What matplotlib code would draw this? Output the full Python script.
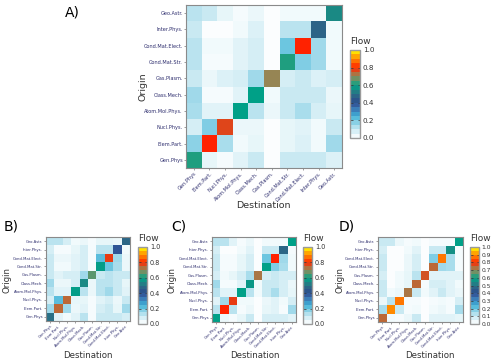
import matplotlib

matplotlib.use("Agg")
import matplotlib.pyplot as plt
import numpy as np
from matplotlib.colors import LinearSegmentedColormap, ListedColormap, Normalize
from matplotlib.cm import ScalarMappable

plt.rcParams["font.family"] = ["Liberation Sans Narrow", "DejaVu Sans"]

fields = ["Gen.Phys", "Elem.Part.", "Nucl.Phys.", "Atom.Mol.Phys.", "Class.Mech.",
          "Gas.Plasm.", "Cond.Mat.Str.", "Cond.Mat.Elect.", "Inter.Phys.", "Geo.Astr."]

# rows = origin (listed bottom -> top, same order as fields), cols = destination
flow_a = [
    [0.62, 0.05, 0.02, 0.06, 0.10, 0.01, 0.10, 0.10, 0.10, 0.07],
    [0.17, 0.80, 0.14, 0.03, 0.05, 0.01, 0.05, 0.07, 0.03, 0.15],
    [0.08, 0.18, 0.77, 0.04, 0.04, 0.01, 0.05, 0.06, 0.03, 0.10],
    [0.14, 0.06, 0.06, 0.60, 0.12, 0.04, 0.10, 0.14, 0.08, 0.05],
    [0.15, 0.02, 0.02, 0.06, 0.60, 0.03, 0.10, 0.10, 0.10, 0.04],
    [0.10, 0.04, 0.07, 0.08, 0.15, 0.70, 0.08, 0.10, 0.07, 0.08],
    [0.12, 0.02, 0.02, 0.06, 0.08, 0.01, 0.62, 0.18, 0.15, 0.03],
    [0.12, 0.03, 0.03, 0.06, 0.08, 0.01, 0.20, 0.80, 0.15, 0.03],
    [0.10, 0.01, 0.01, 0.03, 0.07, 0.01, 0.12, 0.12, 0.47, 0.03],
    [0.12, 0.10, 0.05, 0.02, 0.04, 0.01, 0.03, 0.03, 0.03, 0.55],
]
flow_b = [
    [0.50, 0.06, 0.03, 0.06, 0.12, 0.02, 0.10, 0.10, 0.10, 0.08],
    [0.15, 0.74, 0.15, 0.04, 0.06, 0.02, 0.08, 0.10, 0.05, 0.15],
    [0.08, 0.22, 0.74, 0.05, 0.05, 0.02, 0.06, 0.08, 0.04, 0.10],
    [0.12, 0.06, 0.06, 0.59, 0.12, 0.04, 0.12, 0.15, 0.10, 0.06],
    [0.15, 0.04, 0.04, 0.08, 0.55, 0.04, 0.12, 0.12, 0.10, 0.05],
    [0.10, 0.06, 0.08, 0.08, 0.15, 0.66, 0.10, 0.12, 0.10, 0.10],
    [0.10, 0.03, 0.03, 0.06, 0.08, 0.02, 0.59, 0.20, 0.14, 0.04],
    [0.10, 0.04, 0.04, 0.06, 0.08, 0.02, 0.22, 0.78, 0.15, 0.04],
    [0.08, 0.02, 0.02, 0.05, 0.08, 0.02, 0.12, 0.12, 0.39, 0.03],
    [0.12, 0.12, 0.08, 0.03, 0.04, 0.02, 0.05, 0.05, 0.04, 0.48],
]
flow_c = [
    [0.60, 0.04, 0.02, 0.05, 0.10, 0.01, 0.08, 0.08, 0.08, 0.06],
    [0.12, 0.80, 0.12, 0.02, 0.04, 0.01, 0.05, 0.06, 0.02, 0.15],
    [0.06, 0.15, 0.78, 0.03, 0.03, 0.01, 0.04, 0.06, 0.03, 0.08],
    [0.12, 0.06, 0.06, 0.60, 0.12, 0.03, 0.10, 0.14, 0.08, 0.05],
    [0.15, 0.02, 0.02, 0.06, 0.58, 0.03, 0.10, 0.10, 0.08, 0.04],
    [0.08, 0.03, 0.05, 0.08, 0.14, 0.72, 0.08, 0.10, 0.08, 0.08],
    [0.10, 0.02, 0.02, 0.05, 0.08, 0.01, 0.60, 0.18, 0.14, 0.03],
    [0.10, 0.02, 0.02, 0.05, 0.08, 0.01, 0.20, 0.80, 0.15, 0.03],
    [0.08, 0.01, 0.01, 0.03, 0.06, 0.01, 0.10, 0.10, 0.48, 0.02],
    [0.12, 0.12, 0.06, 0.02, 0.04, 0.01, 0.03, 0.03, 0.03, 0.60],
]
flow_d = [
    [0.74, 0.03, 0.02, 0.04, 0.10, 0.01, 0.06, 0.06, 0.06, 0.05],
    [0.14, 0.90, 0.10, 0.02, 0.03, 0.01, 0.03, 0.04, 0.02, 0.14],
    [0.04, 0.12, 0.88, 0.02, 0.02, 0.01, 0.02, 0.03, 0.02, 0.08],
    [0.10, 0.03, 0.04, 0.72, 0.10, 0.03, 0.06, 0.10, 0.06, 0.04],
    [0.10, 0.01, 0.03, 0.05, 0.74, 0.02, 0.08, 0.08, 0.06, 0.03],
    [0.08, 0.01, 0.03, 0.05, 0.12, 0.76, 0.06, 0.06, 0.06, 0.06],
    [0.10, 0.01, 0.01, 0.04, 0.08, 0.01, 0.74, 0.15, 0.14, 0.02],
    [0.10, 0.01, 0.01, 0.04, 0.08, 0.01, 0.18, 0.88, 0.14, 0.02],
    [0.08, 0.01, 0.01, 0.03, 0.06, 0.01, 0.10, 0.10, 0.56, 0.02],
    [0.10, 0.10, 0.04, 0.02, 0.03, 0.01, 0.02, 0.02, 0.02, 0.60],
]

anchors = [
    (0.00, "#ffffff"), (0.05, "#e6f5f9"), (0.10, "#c8e9f2"), (0.15, "#9fd9ea"),
    (0.20, "#6cc6e0"), (0.25, "#3fb0d6"), (0.30, "#3d8ec3"), (0.35, "#3a6dad"),
    (0.40, "#2c4d8e"), (0.45, "#2d5b87"), (0.50, "#2a6f86"), (0.55, "#1a8a84"),
    (0.60, "#00a087"), (0.65, "#4f9a72"), (0.70, "#948656"), (0.75, "#c5612f"),
    (0.80, "#ff2200"), (0.85, "#ff5500"), (0.90, "#ff8800"), (0.95, "#ffc000"),
    (1.00, "#ffff00"),
]
cmap = LinearSegmentedColormap.from_list("flow", anchors)
cmap_bar = ListedColormap(cmap(np.linspace(0.025, 0.975, 20)))
norm = Normalize(0, 1)

TICK_COLOR = "#2e2e6e"
TITLE_COLOR = "#333333"
W, H = 500, 364


def px(x0, y0, x1, y1):
    return [x0 / W, 1 - y1 / H, (x1 - x0) / W, (y1 - y0) / H]


def heatmap(fig, rect, data, fs):
    ax = fig.add_axes(rect)
    ax.pcolormesh(np.array(data), cmap=cmap, norm=norm)
    ax.set_xlim(0, 10)
    ax.set_ylim(0, 10)
    pos = np.arange(10) + 0.5
    ax.set_xticks(pos)
    ax.set_yticks(pos)
    ax.set_xticklabels(fields, rotation=45, ha="right", va="top",
                       rotation_mode="anchor", fontsize=fs, color=TICK_COLOR)
    ax.set_yticklabels(fields, fontsize=fs, color=TICK_COLOR)
    ax.tick_params(length=1.2, width=0.4, color="#555555", pad=1)
    for s in ax.spines.values():
        s.set_color("#8a8a8a")
        s.set_linewidth(0.8)
    return ax


def titles(fig, origin_xy, dest_xy, fs):
    fig.text(origin_xy[0] / W, 1 - origin_xy[1] / H, "Origin", rotation=90,
             fontsize=fs, color=TITLE_COLOR, ha="center", va="center")
    fig.text(dest_xy[0] / W, 1 - dest_xy[1] / H, "Destination",
             fontsize=fs, color=TITLE_COLOR, ha="center", va="center")


def colorbar(fig, rect, ticks, fs):
    cax = fig.add_axes(rect)
    sm = ScalarMappable(norm=norm, cmap=cmap_bar)
    cb = fig.colorbar(sm, cax=cax, ticks=ticks)
    cb.ax.set_yticklabels([f"{t:.1f}" for t in ticks])
    cb.outline.set_edgecolor("#9a9a9a")
    cb.outline.set_linewidth(1.0)
    cax.tick_params(length=1.8, width=0.5, color="#333333", direction="in",
                    labelsize=fs, labelcolor="#333333", pad=2,
                    left=True, right=True)
    cax.text(0, 1.05, "Flow", transform=cax.transAxes, fontsize=6.5,
             color=TITLE_COLOR, ha="left", va="bottom")
    return cb


fig = plt.figure(figsize=(5, 3.64), dpi=100)

ticks5 = [0.0, 0.2, 0.4, 0.6, 0.8, 1.0]
ticks10 = [round(0.1 * i, 1) for i in range(11)]

heatmap(fig, px(186, 5, 342, 168), flow_a, 3.6)
colorbar(fig, px(350, 50, 360, 138), ticks5, 5.2)
titles(fig, (143, 87), (263, 206), 6.8)
fig.text(65 / W, 1 - 12 / H, "A)", fontsize=10, va="center", ha="left")

heatmap(fig, px(46, 237, 130, 321), flow_b, 2.7)
colorbar(fig, px(138, 247, 147, 324), ticks5, 4.7)
titles(fig, (7, 280), (88, 355), 6.2)
fig.text(4 / W, 1 - 226 / H, "B)", fontsize=10, va="center", ha="left")

heatmap(fig, px(212, 237, 296, 322), flow_c, 2.7)
colorbar(fig, px(303, 247, 312, 324), ticks5, 4.7)
titles(fig, (172, 280), (255, 355), 6.2)
fig.text(171 / W, 1 - 226 / H, "C)", fontsize=10, va="center", ha="left")

heatmap(fig, px(378, 237, 463, 322), flow_d, 2.7)
colorbar(fig, px(470, 247, 479, 324), ticks10, 4.3)
titles(fig, (340, 280), (430, 355), 6.2)
fig.text(339 / W, 1 - 226 / H, "D)", fontsize=10, va="center", ha="left")

fig.savefig("out.png", dpi=100)
